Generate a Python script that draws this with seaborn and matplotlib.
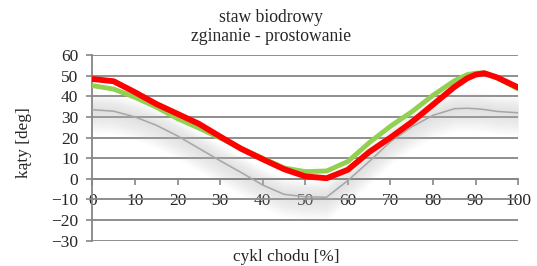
import numpy as np
import pandas as pd
import matplotlib
matplotlib.use("Agg")
import matplotlib.pyplot as plt
import seaborn as sns

# gait cycle [%]
cycle = [0, 5, 10, 15, 20, 25, 30, 35, 40, 45, 50, 55, 60, 65, 70, 75, 80, 85, 88, 90, 92, 95, 100]

# norm (mean) - gray
norm = [33.5, 32.8, 30.0, 26.0, 20.8, 14.8, 8.8, 3.0, -3.0, -7.5, -8.7, -8.9, -0.8, 8.4,
        18.0, 25.2, 30.8, 34.0, 34.2, 34.0, 33.6, 32.7, 32.0]
# green / red hip angle
green = [45.2, 43.5, 39.5, 34.8, 29.2, 24.6, 19.8, 14.8, 10.0, 5.3, 3.5, 3.8, 8.4, 17.5,
         25.5, 32.5, 40.5, 47.5, 50.5, 51.2, 51.4, 49.0, 43.5]
red = [48.4, 47.3, 42.0, 36.3, 31.5, 26.7, 20.5, 14.5, 9.5, 4.7, 1.2, 0.3, 4.4, 13.0,
       20.0, 27.5, 36.0, 44.5, 48.7, 50.5, 51.2, 49.2, 44.3]

df = pd.DataFrame({"cykl": cycle, "norma": norm, "zielony": green, "czerwony": red})

sns.set_style("white")
plt.rcParams["font.family"] = ["Liberation Serif", "DejaVu Serif"]

fig = plt.figure(figsize=(5.37, 2.66), dpi=100)
ax = fig.add_axes([0.172, 0.095, 0.793, 0.698])

# soft gray band around the norm
g = np.array(norm)
for w in np.linspace(11, 1, 12):
    ax.fill_between(cycle, g - w, g + w * 0.75, color="#bcbcbc", alpha=0.04, lw=0, zorder=2)

line_kw = dict(solid_joinstyle="round", solid_capstyle="round")
sns.lineplot(data=df, x="cykl", y="norma", color="#a6a6a6", lw=1.1, ax=ax, zorder=3, **line_kw)
sns.lineplot(data=df, x="cykl", y="zielony", color="#92d050", lw=3.5, ax=ax, zorder=4, **line_kw)
sns.lineplot(data=df, x="cykl", y="czerwony", color="#ff0000", lw=4.2, ax=ax, zorder=5, **line_kw)

ax.set_xlim(0, 100)
ax.set_ylim(-30, 60)
ax.set_yticks(range(-30, 61, 10))
ax.set_xticks(range(0, 101, 10))
for yv in range(-30, 61, 10):
    ax.axhline(yv, color="#868686", lw=1.3, zorder=1)

for s in ["top", "right"]:
    ax.spines[s].set_visible(False)
ax.spines["left"].set_color("#868686")
ax.spines["left"].set_linewidth(1.3)
ax.spines["bottom"].set_position(("data", 0))
ax.spines["bottom"].set_color("#868686")
ax.spines["bottom"].set_linewidth(1.3)

ax.tick_params(axis="y", direction="out", length=4, width=1.2, color="#868686",
               labelsize=12.5, pad=6, left=True)
ax.tick_params(axis="x", direction="out", length=4, width=1.2, color="#868686",
               labelsize=12.5, pad=6, bottom=True)

ax.set_xlabel("")
ax.set_ylabel("")
fig.text(0.044, 0.462, "kąty [deg]", rotation=90, ha="center", va="center", fontsize=12.4)
fig.text(0.533, 0.034, "cykl chodu [%]", ha="center", va="center", fontsize=12.4)
fig.text(0.505, 0.898, "staw biodrowy\nzginanie - prostowanie", ha="center", va="center",
         fontsize=12.7, linespacing=1.2)

fig.savefig("out.png", dpi=100)
